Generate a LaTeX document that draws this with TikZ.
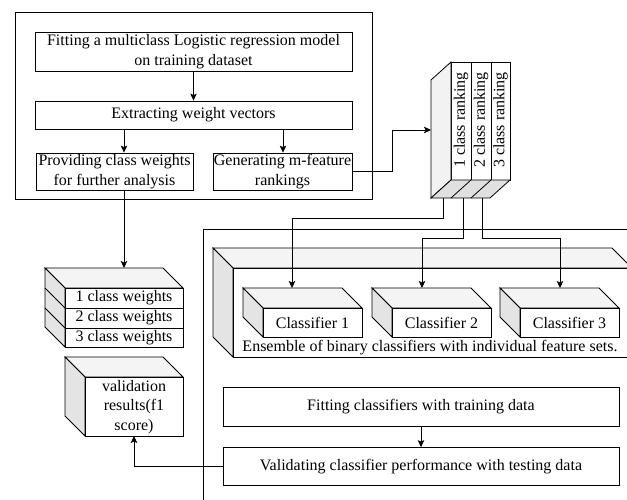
\documentclass[tikz,border=0pt]{standalone}
\usepackage{fontspec}
\setmainfont{Liberation Serif}
\usetikzlibrary{arrows.meta,calc}
\definecolor{topgray}{HTML}{F4F4F4}
\definecolor{sidegray}{HTML}{E4E4E4}
\definecolor{lightside}{HTML}{F2F2F2}
\definecolor{botgray}{HTML}{E0E0E0}
% cube seen from the front, depth going up and to the left
% #1,#2 = front top-left, #3,#4 = front bottom-right, #5 = depth
\newcommand\ulcube[5]{%
  \filldraw[fill=topgray] (#1-#5,#2-#5) -- (#3-#5,#2-#5) -- (#3,#2) -- (#1,#2) -- cycle;
  \filldraw[fill=sidegray] (#1-#5,#2-#5) -- (#1,#2) -- (#1,#4) -- (#1-#5,#4-#5) -- cycle;
  \filldraw[fill=white] (#1,#2) rectangle (#3,#4);
}
\begin{document}
\begin{tikzpicture}[x=1pt,y=-1pt,line width=0.8pt,
  txt/.style={font=\fontsize{16}{19.5}\selectfont, align=center, inner sep=0pt},
  stepbox/.style={draw, fill=white, txt},
  arr/.style={-{Stealth[length=7pt,width=6.5pt,inset=1.5pt]}},
  line join=miter]
\useasboundingbox (0,0) rectangle (627,500);
\clip (0,0) rectangle (627,500);

% ---- upper left block: logistic regression stage
\draw (15,12) rectangle (372,199);
\node[stepbox, minimum width=317pt, minimum height=39pt] (fit) at (193.5,51.5)
  {Fitting a multiclass Logistic regression model\\on training dataset};
\node[stepbox, minimum width=317pt, minimum height=28pt] (ext) at (193.5,115)
  {Extracting weight vectors};
\node[stepbox, minimum width=157pt, minimum height=37pt] (prov) at (114.5,171.5)
  {Providing class weights\\for further analysis};
\node[stepbox, minimum width=139pt, minimum height=37pt] (gen) at (282.5,171.5)
  {Generating m-feature\\rankings};
\coordinate (xa) at (124,0);
\coordinate (xb) at (283,0);
\draw[arr] (fit.south) -- (ext.north);
\draw[arr] (ext.south -| xa) -- (prov.north -| xa);
\draw[arr] (ext.south -| xb) -- (gen.north -| xb);

% ---- ranking stack (depth going down and to the left)
\filldraw[fill=white] (451,62) rectangle (510,180);
\draw (471,62) -- (471,180) (491,62) -- (491,180);
\filldraw[fill=lightside] (451,62) -- (431,80) -- (431,198) -- (451,180) -- cycle;
\filldraw[fill=botgray] (451,180) -- (510,180) -- (490,198) -- (431,198) -- cycle;
\draw (471,180) -- (451,198) (491,180) -- (471,198);
\node[txt, rotate=90] (r1) at (461,120) {1 class ranking};
\node[txt, rotate=90] (r2) at (481,120) {2 class ranking};
\node[txt, rotate=90] (r3) at (500.5,120) {3 class ranking};
\coordinate (rkin) at (431,130);
\coordinate (rb1) at (443,198);
\coordinate (rb2) at (463,198);
\coordinate (rb3) at (482,198);
\draw[arr] (gen.east) -- (392,171.5) |- (rkin);

% ---- class weights stack
\ulcube{65}{288}{183}{347}{20}
\draw (65,308) -- (183,308) (65,328) -- (183,328);
\draw (45,288) -- (65,308) (45,308) -- (65,328);
\node[txt] (cw1) at (124,298) {1 class weights};
\node[txt] (cw2) at (124,318) {2 class weights};
\node[txt] (cw3) at (124,337.5) {3 class weights};
\coordinate (cwtop) at (124,268);
\draw[arr] (prov.south -| xa) -- (cwtop);

% ---- validation results
\ulcube{85}{377}{183}{436}{20}
\node[txt] (val) at (134,407) {validation\\results(f1\\score)};
\coordinate (valin) at (134,436);

% ---- lower right block: classifier ensemble
\draw (203,520) -- (203,229) -- (640,229);
\ulcube{233}{268}{632}{357}{20}
\node[txt] (ens) at (430,348) {Ensemble of binary classifiers with individual feature sets.};
\ulcube{263}{308}{362}{337}{20}
\ulcube{392}{308}{491}{337}{20}
\ulcube{520}{308}{619}{337}{20}
\node[txt] (c1) at (312.5,322.5) {Classifier 1};
\node[txt] (c2) at (441.5,322.5) {Classifier 2};
\node[txt] (c3) at (569.5,322.5) {Classifier 3};
\coordinate (c1in) at (292,288);
\coordinate (c2in) at (422,288);
\coordinate (c3in) at (560,288);
\draw[arr] (rb1) -- (443,218) -| (c1in);
\draw[arr] (rb2) -- (463,238) -| (c2in);
\draw[arr] (rb3) -- (482,238) -| (c3in);

\node[stepbox, minimum width=396pt, minimum height=39pt] (fc) at (421,406.5)
  {Fitting classifiers with training data};
\node[stepbox, minimum width=396pt, minimum height=38pt] (vc) at (421,466.5)
  {Validating classifier performance with testing data};
\draw[arr] (fc.south) -- (vc.north);
\draw[arr] (vc.west) -| (valin);
\end{tikzpicture}
\end{document}
